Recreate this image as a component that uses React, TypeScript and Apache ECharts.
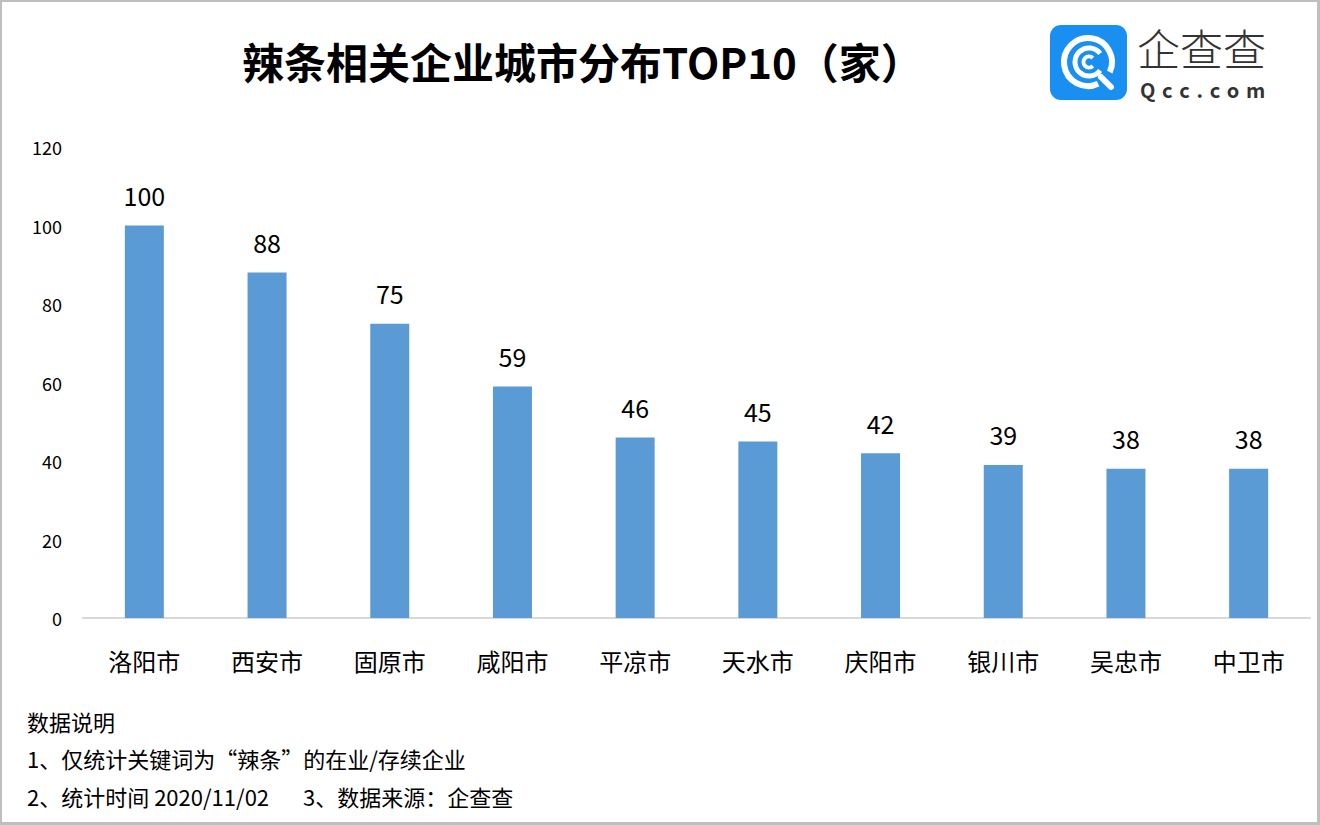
import React, { useEffect, useRef } from "react";
import * as echarts from "echarts";

const categories = ["洛阳市", "西安市", "固原市", "咸阳市", "平凉市", "天水市", "庆阳市", "银川市", "吴忠市", "中卫市"];
const values = [100, 88, 75, 59, 46, 45, 42, 39, 38, 38];
const yTicks = { min: 0, max: 120, interval: 20 };
const titleText = "辣条相关企业城市分布TOP10（家）";
const noteLines = ["数据说明", "1、仅统计关键词为“辣条”的在业/存续企业", "2、统计时间 2020/11/02", "3、数据来源：企查查"];
const brandName = "企查查";
const brandSite = "Qcc.com";

const FONT = "'Noto Sans CJK SC', 'Noto Sans', sans-serif";

export default function App() {
  const ref = useRef<HTMLDivElement>(null);
  useEffect(() => {
    document.body.style.margin = "0";
    const chart = echarts.init(ref.current!, null, { renderer: "svg" });
    chart.setOption({
      animation: false,
      backgroundColor: "#ffffff",
      textStyle: { fontFamily: FONT },
      title: {
        text: titleText,
        left: 237,
        top: 34,
        textStyle: { fontSize: 42, fontWeight: "bold", color: "#000", fontFamily: FONT },
      },
      grid: { left: 83, right: 10, top: 147, bottom: 207 },
      xAxis: {
        type: "category",
        data: categories,
        axisLine: { lineStyle: { color: "#d9d9d9", width: 2 } },
        axisTick: { show: false },
        axisLabel: { fontSize: 24, color: "#000", margin: 30, fontFamily: FONT },
      },
      yAxis: {
        type: "value",
        min: yTicks.min,
        max: yTicks.max,
        interval: yTicks.interval,
        splitLine: { show: false },
        axisLine: { show: false },
        axisTick: { show: false },
        axisLabel: { fontSize: 18, color: "#000", margin: 21, fontFamily: FONT },
      },
      series: [
        {
          type: "bar",
          data: values,
          barWidth: 39,
          itemStyle: { color: "#5b9bd5" },
          label: { show: true, position: "top", distance: 18, fontSize: 25, color: "#000", fontFamily: FONT },
        },
      ],
      graphic: [
        {
          type: "rect",
          shape: { x: 0, y: 0, width: 1319, height: 824 },
          style: { fill: "none", stroke: "#bfbfbf", lineWidth: 4 },
          silent: true,
        },
        {
          type: "rect",
          shape: { x: 1050, y: 25, width: 77, height: 75, r: 11 },
          style: { fill: "#1a8ff2" },
        },
        {
          type: "arc",
          shape: { cx: 1088, cy: 62, r: 24, startAngle: Math.PI / 4 + 0.35, endAngle: Math.PI / 4 - 0.35 + Math.PI * 2 },
          style: { stroke: "#fff", lineWidth: 6, fill: "none" },
        },
        {
          type: "line",
          shape: { x1: 1101, y1: 77, x2: 1111, y2: 87 },
          style: { stroke: "#fff", lineWidth: 6, lineCap: "round" },
        },
        {
          type: "arc",
          shape: { cx: 1089, cy: 62, r: 14, startAngle: 0.65, endAngle: Math.PI * 2 - 0.65 },
          style: { stroke: "#fff", lineWidth: 5, fill: "none" },
        },
        {
          type: "arc",
          shape: { cx: 1089, cy: 62, r: 5.5, startAngle: 0.8, endAngle: Math.PI * 2 - 0.8 },
          style: { stroke: "#fff", lineWidth: 4, fill: "none" },
        },
        {
          type: "text",
          x: 1137,
          y: 47,
          style: { text: brandName, font: `300 43px ${FONT}`, lineHeight: 43, fill: "#333", textVerticalAlign: "middle" },
        },
        {
          type: "text",
          x: 1140,
          y: 89,
          style: {
            text: brandSite.split("").join("\u2004"),
            font: `bold 20px ${FONT}`,
            lineHeight: 20,
            fill: "#333",
            textAlign: "left",
            textVerticalAlign: "middle",
          },
        },
        {
          type: "text",
          x: 27,
          y: 721,
          style: { text: noteLines[0], font: `22px ${FONT}`, fill: "#000", textVerticalAlign: "middle" },
        },
        {
          type: "text",
          x: 27,
          y: 758,
          style: { text: noteLines[1], font: `22px ${FONT}`, fill: "#000", textVerticalAlign: "middle" },
        },
        {
          type: "text",
          x: 27,
          y: 796,
          style: { text: noteLines[2], font: `22px ${FONT}`, fill: "#000", textVerticalAlign: "middle" },
        },
        {
          type: "text",
          x: 303,
          y: 796,
          style: { text: noteLines[3], font: `22px ${FONT}`, fill: "#000", textVerticalAlign: "middle" },
        },
      ],
    });
    return () => chart.dispose();
  }, []);
  return <div ref={ref} style={{ width: 1320, height: 825 }} />;
}
